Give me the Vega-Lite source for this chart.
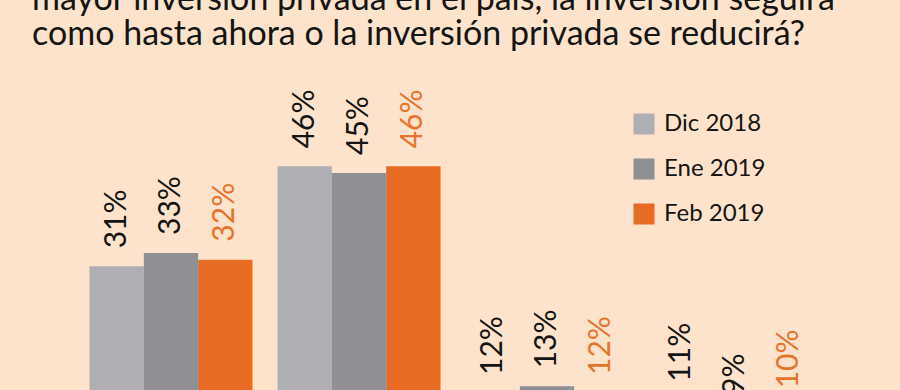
{
  "$schema": "https://vega.github.io/schema/vega-lite/v6.json",
  "width": 900,
  "height": 423,
  "autosize": {"type": "none"},
  "padding": {"left": 3, "top": 50, "right": 0, "bottom": 0},
  "background": "#fde3cb",
  "config": {"view": {"stroke": null}},
  "title": {
    "text": ["mayor inversión privada en el país, la inversión seguirá", "como hasta ahora o la inversión privada se reducirá?"],
    "anchor": "start",
    "frame": "group",
    "font": "Lato",
    "fontSize": 34,
    "fontWeight": "normal",
    "color": "#141414",
    "lineHeight": 35,
    "offset": -2,
    "dx": 29
  },
  "data": {
    "values": [
      {"respuesta": "Habrá mayor inversión privada", "mes": "Dic 2018", "pct": 0.31},
      {"respuesta": "Habrá mayor inversión privada", "mes": "Ene 2019", "pct": 0.33},
      {"respuesta": "Habrá mayor inversión privada", "mes": "Feb 2019", "pct": 0.32},
      {"respuesta": "Seguirá como hasta ahora", "mes": "Dic 2018", "pct": 0.46},
      {"respuesta": "Seguirá como hasta ahora", "mes": "Ene 2019", "pct": 0.45},
      {"respuesta": "Seguirá como hasta ahora", "mes": "Feb 2019", "pct": 0.46},
      {"respuesta": "Se reducirá", "mes": "Dic 2018", "pct": 0.12},
      {"respuesta": "Se reducirá", "mes": "Ene 2019", "pct": 0.13},
      {"respuesta": "Se reducirá", "mes": "Feb 2019", "pct": 0.12},
      {"respuesta": "No sabe / No responde", "mes": "Dic 2018", "pct": 0.11},
      {"respuesta": "No sabe / No responde", "mes": "Ene 2019", "pct": 0.09},
      {"respuesta": "No sabe / No responde", "mes": "Feb 2019", "pct": 0.10}
    ]
  },
  "encoding": {
    "x": {
      "field": "respuesta",
      "type": "nominal",
      "sort": ["Habrá mayor inversión privada", "Seguirá como hasta ahora", "Se reducirá", "No sabe / No responde"],
      "axis": null,
      "scale": {"paddingInner": 0.133, "paddingOuter": 0.46}
    },
    "xOffset": {
      "field": "mes",
      "type": "nominal",
      "sort": ["Dic 2018", "Ene 2019", "Feb 2019"],
      "scale": {"paddingInner": 0, "paddingOuter": 0}
    },
    "y": {
      "field": "pct",
      "type": "quantitative",
      "scale": {"domain": [0, 0.6345], "nice": false},
      "axis": null
    }
  },
  "layer": [
    {
      "mark": {"type": "bar"},
      "encoding": {
        "color": {
          "field": "mes",
          "type": "nominal",
          "sort": ["Dic 2018", "Ene 2019", "Feb 2019"],
          "scale": {"domain": ["Dic 2018", "Ene 2019", "Feb 2019"], "range": ["#adafb2", "#8e9094", "#e76b22"]},
          "legend": {
            "orient": "none",
            "legendX": 629,
            "legendY": 62,
            "title": null,
            "symbolType": "square",
            "symbolSize": 441,
            "symbolStrokeWidth": 0,
            "symbolOpacity": 1,
            "labelFont": "Lato",
            "labelFontSize": 24,
            "labelColor": "#141414",
            "labelOffset": 8,
            "rowPadding": 21,
            "padding": 0
          }
        }
      }
    },
    {
      "mark": {"type": "text", "angle": 270, "align": "left", "baseline": "middle", "dx": 18, "font": "Lato", "fontSize": 30},
      "encoding": {
        "text": {"field": "pct", "type": "quantitative", "format": ".0%"},
        "color": {
          "condition": {"test": "datum.mes === 'Feb 2019'", "value": "#e8742c"},
          "value": "#141414"
        }
      }
    }
  ]
}
